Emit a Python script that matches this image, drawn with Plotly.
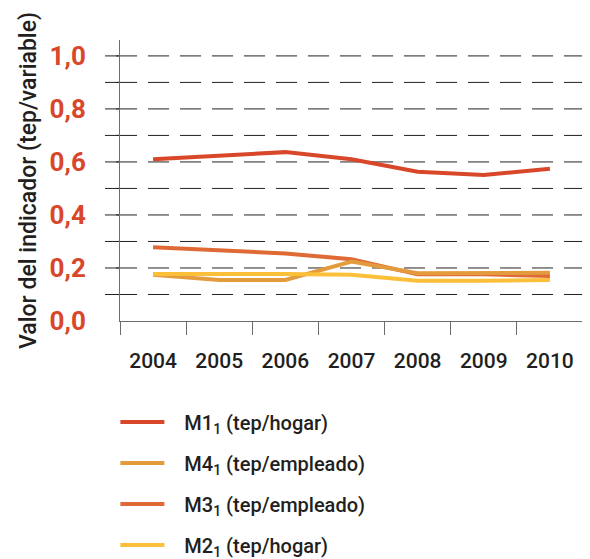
import plotly.graph_objects as go

years = ["2004", "2005", "2006", "2007", "2008", "2009", "2010"]
m1 = [0.610, 0.623, 0.637, 0.610, 0.563, 0.551, 0.574]
m4 = [0.174, 0.155, 0.155, 0.224, 0.180, 0.180, 0.182]
m3 = [0.278, 0.266, 0.255, 0.233, 0.176, 0.176, 0.170]
m2 = [0.177, 0.178, 0.177, 0.174, 0.152, 0.152, 0.155]

y_tickvals = [0.0, 0.2, 0.4, 0.6, 0.8, 1.0]
y_ticktext = ["0,0", "0,2", "0,4", "0,6", "0,8", "1,0"]
grid_vals = [0.1, 0.2, 0.3, 0.4, 0.5, 0.6, 0.7, 0.8, 0.9, 1.0]

PAD = "&nbsp;&nbsp;&nbsp;"
series = [
    ("M3<sub>1</sub> (tep/empleado)", m3, "#E06A35", 3),
    ("M4<sub>1</sub> (tep/empleado)", m4, "#E39B3D", 2),
    ("M2<sub>1</sub> (tep/hogar)", m2, "#FBBF3A", 4),
    ("M1<sub>1</sub> (tep/hogar)", m1, "#D9472B", 1),
]

FONT = "Roboto"
fig = go.Figure()
for name, vals, color, rank in series:
    fig.add_trace(go.Scatter(
        x=years, y=vals, mode="lines", name=PAD + name,
        line=dict(color=color, width=4),
        legendrank=rank, legendgroup=name,
    ))

shapes = []
for g in grid_vals:
    shapes.append(dict(type="line", xref="paper", yref="y", x0=-0.0324, x1=0.0, y0=g, y1=g,
                       line=dict(color="#222222", width=1), layer="below"))
    shapes.append(dict(type="line", xref="paper", yref="y", x0=-0.0086, x1=1.0043, y0=g, y1=g,
                       line=dict(color="#222222", width=1, dash="21px,11px"), layer="below"))

# the page body has an 8px default margin, so the figure is sized/offset to compensate
fig.update_layout(
    width=582, height=551,
    margin=dict(l=112, r=7, t=32, b=238, autoexpand=False),
    paper_bgcolor="white", plot_bgcolor="white",
    font=dict(family=FONT, color="#231F20"),
    shapes=shapes,
    showlegend=True,
    legend=dict(
        x=-0.01, y=-0.29, xanchor="left", yanchor="top",
        font=dict(size=20, color="#231F20", family=FONT, weight=500),
        tracegroupgap=12, itemwidth=44,
        bgcolor="rgba(0,0,0,0)",
    ),
    xaxis=dict(
        type="category", range=[-0.5, 6.5], automargin=False,
        showline=True, linecolor="#6d6d6d", linewidth=1,
        ticks="outside", ticklen=13, tickcolor="#6d6d6d", tickwidth=1,
        tickson="boundaries", showgrid=False, zeroline=False,
        tickfont=dict(size=21, color="#231F20", weight=500),
        ticklabelstandoff=21,
        fixedrange=True,
    ),
    yaxis=dict(
        range=[0, 1.06], automargin=False,
        showline=True, linecolor="#6d6d6d", linewidth=1,
        showgrid=False, zeroline=False, ticks="",
        tickvals=y_tickvals, ticktext=y_ticktext,
        tickfont=dict(size=26, color="#D9472B", family=FONT, weight="bold"),
        title=dict(text="Valor del indicador (tep/variable)",
                   font=dict(size=23, color="#231F20", weight=500),
                   standoff=6),
        ticklabelstandoff=28,
    ),
)

fig.write_html("out.html")
